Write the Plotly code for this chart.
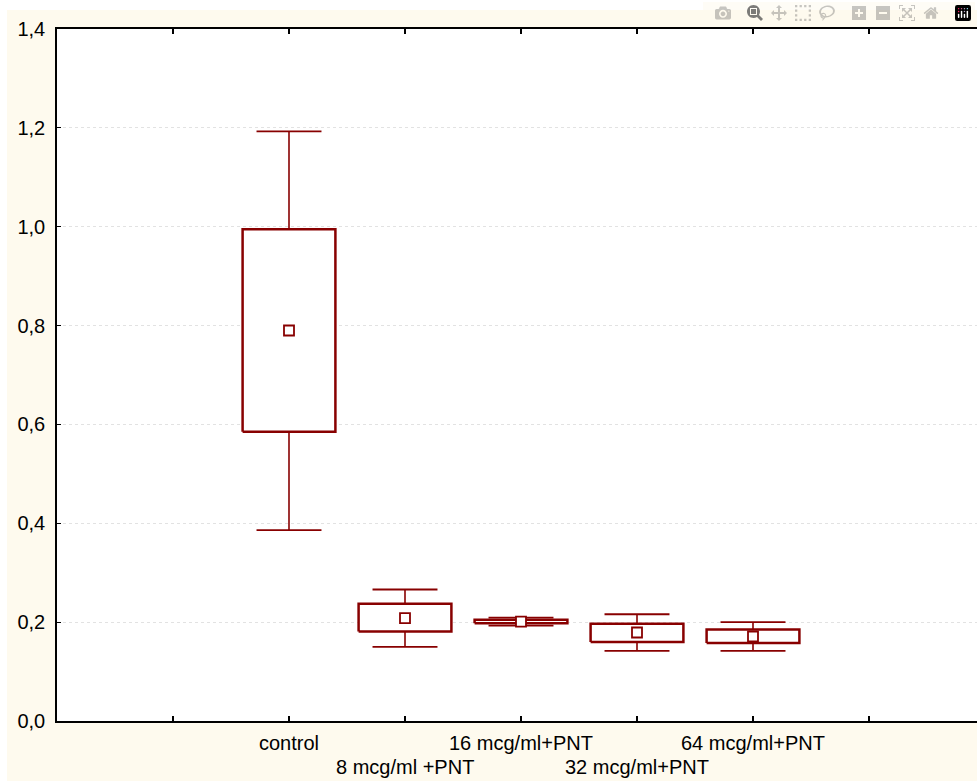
import plotly.graph_objects as go

# ---- data ----
categories = ["control", "8 mcg/ml +PNT", "16 mcg/ml+PNT", "32 mcg/ml+PNT", "64 mcg/ml+PNT"]
means      = [0.790, 0.208, 0.201, 0.179, 0.171]
box_low    = [0.585, 0.181, 0.198, 0.160, 0.158]
box_high   = [0.995, 0.237, 0.205, 0.197, 0.185]
whisk_low  = [0.386, 0.150, 0.193, 0.142, 0.142]
whisk_high = [1.193, 0.266, 0.209, 0.216, 0.200]
y_ticks = [0.0, 0.2, 0.4, 0.6, 0.8, 1.0, 1.2, 1.4]
x_tick_positions = [-1, 0, 1, 2, 3, 4, 5]

COL = "#880000"
BOX_HW = 0.40
CAP_HW = 0.28
FONT = "Liberation Sans, Arial"

fig = go.Figure()
for i, name in enumerate(categories):
    fig.add_trace(go.Scatter(
        x=[i - BOX_HW, i + BOX_HW, i + BOX_HW, i - BOX_HW, i - BOX_HW],
        y=[box_low[i], box_low[i], box_high[i], box_high[i], box_low[i]],
        mode="lines", line=dict(color=COL, width=2.5), fill="toself",
        fillcolor="white", hoverinfo="skip", showlegend=False))
    fig.add_trace(go.Scatter(
        x=[i, i, None, i, i],
        y=[box_high[i], whisk_high[i], None, box_low[i], whisk_low[i]],
        mode="lines", line=dict(color=COL, width=1.6),
        hoverinfo="skip", showlegend=False))
    fig.add_trace(go.Scatter(
        x=[i - CAP_HW, i + CAP_HW, None, i - CAP_HW, i + CAP_HW],
        y=[whisk_high[i], whisk_high[i], None, whisk_low[i], whisk_low[i]],
        mode="lines", line=dict(color=COL, width=1.8),
        hoverinfo="skip", showlegend=False))
    fig.add_trace(go.Scatter(
        x=[i], y=[means[i]], mode="markers",
        marker=dict(symbol="square", size=10, color="white",
                    line=dict(color=COL, width=1.8)),
        name=name, showlegend=False))

for i, name in enumerate(categories):
    fig.add_annotation(x=i, xref="x", y=0, yref="paper", text=name,
                       showarrow=False, yanchor="middle",
                       yshift=-22 if i % 2 == 0 else -46,
                       font=dict(family=FONT, size=20, color="black"))

W, H = 977, 781
L, R, T, B = 57, 0, 29, 60
pw, ph = W - L - R, H - T - B

# thin white border of the page (top and left)
fig.add_shape(type="rect", xref="paper", yref="paper", layer="above",
              x0=-0.2, x1=1.2, y0=(H - B - 10) / ph, y1=1.2,
              fillcolor="white", line=dict(width=0))
fig.add_shape(type="rect", xref="paper", yref="paper", layer="above",
              x0=-0.2, x1=(7 - L) / pw, y0=-0.2, y1=1.2,
              fillcolor="white", line=dict(width=0))

fig.update_layout(
    width=W, height=H,
    margin=dict(l=L, r=R, t=T, b=B),
    paper_bgcolor="#fefaee", plot_bgcolor="white",
    separators=", ",
    font=dict(family=FONT, size=20, color="black"),
    xaxis=dict(range=[-2, -2 + pw / 116.0], tickvals=x_tick_positions, showticklabels=False,
               ticks="inside", ticklen=5, tickwidth=1.5, tickcolor="black",
               showline=True, linecolor="black", linewidth=1.5, mirror="ticks",
               showgrid=False, zeroline=False),
    yaxis=dict(range=[0, 1.4], tickvals=y_ticks, tickformat=".1f",
               ticks="inside", ticklen=4, tickwidth=1, tickcolor="black",
               showline=True, linecolor="black", linewidth=1.5, mirror=False,
               showgrid=True, gridcolor="#e2e2e2", griddash="dot", gridwidth=1,
               zeroline=False, ticklabelstandoff=6,
               tickfont=dict(family=FONT, size=20)),
)

fig.write_html(
    "out.html",
    post_script="document.body.style.margin='0';"
                "document.documentElement.style.overflow='hidden';"
                "document.body.style.overflow='hidden';",
)
